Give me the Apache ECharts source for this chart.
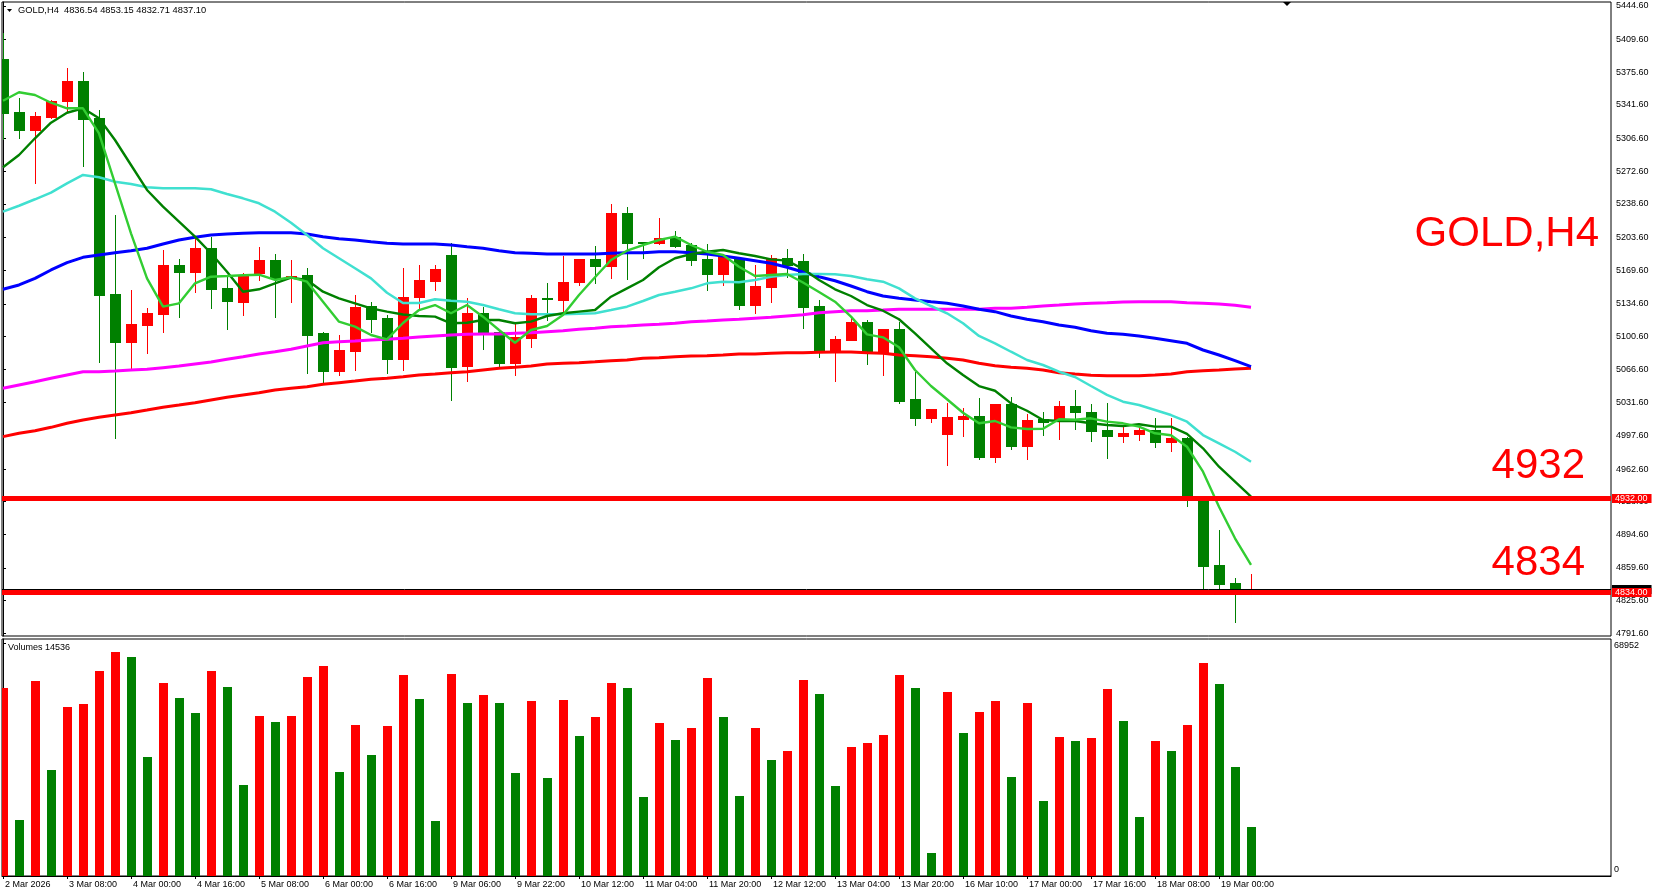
<!DOCTYPE html>
<html><head><meta charset="utf-8">
<script src="https://cdn.jsdelivr.net/npm/echarts@6/dist/echarts.min.js"></script>
<style>html,body{margin:0;padding:0;background:#fff}#c{width:1655px;height:893px}</style>
</head><body><div id="c"></div>
<script>
// ---------------- DATA ----------------
const symbolName = 'GOLD,H4';
const timeLabels = ['2 Mar 2026','3 Mar 08:00','4 Mar 00:00','4 Mar 16:00','5 Mar 08:00','6 Mar 00:00','6 Mar 16:00','9 Mar 06:00','9 Mar 22:00','10 Mar 12:00','11 Mar 04:00','11 Mar 20:00','12 Mar 12:00','13 Mar 04:00','13 Mar 20:00','16 Mar 10:00','17 Mar 00:00','17 Mar 16:00','18 Mar 08:00','19 Mar 00:00'];
const barsPerLabel = 4;
const priceTicks = [5444.6,5409.6,5375.6,5341.6,5306.6,5272.6,5238.6,5203.6,5169.6,5134.6,5100.6,5066.6,5031.6,4997.6,4962.6,4928.6,4894.6,4859.6,4825.6,4791.6];
const volumeTicks = [0, 68952];

const opens = [5389.4,5334.6,5315.5,5329.4,5345.2,5366.5,5328.0,5144.8,5095.1,5112.5,
 5124.0,5175.0,5168.0,5192.7,5151.0,5136.8,5166.3,5180.2,5161.5,5164.6,
 5103.9,5064.6,5085.8,5132.3,5120.1,5076.8,5141.4,5158.6,5185.4,5070.2,
 5124.7,5104.9,5073.3,5099.3,5140.9,5138.6,5157.6,5181.2,5174.3,5229.4,
 5198.9,5197.6,5204.4,5195.8,5181.2,5165.6,5181.2,5133.3,5152.4,5181.9,
 5179.1,5132.3,5084.7,5096.9,5116.0,5084.7,5108.4,5035.5,5016.0,4999.1,
 5015.0,5017.8,4975.4,5030.3,4986.9,5014.3,5013.6,5028.2,5021.7,5003.2,
 4997.3,4999.4,5002.9,4991.0,4995.2,4933.0,4862.7,4843.9,4836.54];
const highs = [5416.2,5348.5,5334.6,5346.7,5380.4,5375.9,5336.3,5227.0,5149.0,5130.5,
 5190.6,5181.2,5201.7,5204.4,5162.8,5166.3,5194.0,5186.4,5180.2,5172.2,
 5105.6,5102.1,5143.7,5136.5,5122.9,5171.5,5175.0,5175.0,5197.6,5140.3,
 5131.6,5106.3,5116.0,5143.7,5156.6,5184.4,5181.6,5194.8,5238.5,5235.7,
 5199.3,5223.9,5210.4,5198.2,5196.8,5184.8,5181.6,5175.0,5185.1,5191.6,
 5186.4,5138.6,5101.1,5121.2,5117.7,5108.8,5116.0,5064.0,5025.5,5031.6,
 5025.8,5036.2,5030.7,5037.2,5019.6,5022.0,5033.4,5044.9,5030.3,5031.0,
 5006.7,5006.7,5016.0,5016.0,4995.6,4934.0,4899.1,4849.4,4853.15];
const lows = [5306.1,5307.5,5260.7,5327.7,5334.6,5278.0,5074.0,4995.2,5066.4,5083.1,
 5105.6,5121.2,5147.2,5130.5,5108.7,5122.9,5159.4,5120.5,5136.8,5062.2,
 5051.8,5060.5,5065.7,5105.3,5062.9,5065.7,5128.1,5148.9,5034.4,5054.5,
 5087.2,5067.4,5060.5,5089.3,5117.7,5124.7,5154.2,5155.9,5161.8,5160.7,
 5182.6,5197.2,5194.0,5175.0,5148.9,5154.2,5129.2,5125.3,5136.8,5162.8,
 5109.7,5078.9,5054.5,5096.5,5071.6,5060.5,5031.6,5008.4,5011.8,4966.8,
 4997.0,4972.7,4970.2,4983.8,4973.3,4998.0,4994.2,5004.6,4992.1,4973.7,
 4991.0,4992.8,4985.8,4981.7,4924.4,4837.4,4837.4,4803.6,4832.71];
const closes = [5332.9,5315.5,5330.1,5345.7,5366.5,5327.0,5143.7,5095.1,5113.6,5124.7,
 5175.0,5168.0,5192.7,5150.3,5137.8,5164.6,5180.2,5161.1,5163.5,5102.1,
 5064.6,5086.5,5131.6,5119.1,5076.8,5141.7,5159.4,5170.8,5069.1,5124.7,
 5104.5,5073.3,5100.3,5140.3,5139.3,5157.6,5181.2,5174.3,5229.4,5198.2,
 5197.6,5202.8,5194.8,5180.2,5165.6,5184.4,5133.3,5153.1,5181.9,5175.0,
 5131.6,5084.7,5097.9,5116.0,5084.7,5108.4,5033.4,5016.0,5025.1,5017.1,
 5017.8,4975.4,5030.3,4986.9,5013.6,5011.5,5028.2,5021.7,5002.5,4997.3,
 5000.1,5002.9,4991.0,4994.6,4933.0,4861.9,4842.6,4837.4,4837.10];
const volumes = [55480,16615,57660,31450,49845,50735,60625,66164,64680,35307,
 56966,52516,48065,60625,55780,27000,47472,45692,47472,58747,
 62010,30857,44802,35901,44505,59340,52219,16319,59637,51032,
 53406,51032,30560,51626,29077,51923,41538,47175,56966,55483,
 23439,45395,40351,43912,58450,47175,23736,43912,34417,37088,
 57857,53703,26703,38274,39461,41835,59340,55483,6824,54296,
 42428,48362,51626,29373,51032,22253,41241,40055,40945,55186,
 45989,17505,40055,37088,44802,62900,56670,32340,14536];

const maFast = [5346.0,5354.8,5352.0,5343.9,5338.1,5338.1,5312.1,5260.0,5208.0,5161.1,
 5131.6,5135.1,5155.9,5162.8,5163.5,5164.3,5164.9,5159.4,5162.2,5157.6,
 5136.8,5116.0,5110.8,5102.1,5097.6,5114.6,5128.1,5133.3,5124.7,5133.3,
 5121.2,5107.3,5094.1,5107.3,5111.5,5122.9,5143.8,5162.2,5180.2,5189.9,
 5195.8,5201.0,5204.5,5195.8,5188.8,5185.4,5173.2,5163.5,5164.6,5165.6,
 5156.8,5146.9,5136.8,5121.2,5102.8,5099.7,5089.3,5065.7,5049.0,5035.2,
 5021.2,5010.2,5012.6,5006.0,5004.3,5004.6,5014.4,5013.9,5015.4,5011.9,
 5010.2,5006.7,4999.8,4997.7,4985.8,4959.8,4923.4,4890.5,4862.7];
const maMid = [5276.7,5289.5,5306.9,5323.1,5333.5,5338.1,5327.7,5305.1,5279.1,5253.1,
 5235.7,5220.1,5204.5,5187.2,5168.0,5147.2,5149.7,5155.9,5161.8,5159.4,
 5147.2,5140.3,5135.1,5129.9,5126.4,5123.5,5121.9,5121.2,5114.3,5114.9,
 5117.7,5117.7,5114.3,5116.0,5121.9,5124.7,5126.4,5128.1,5142.0,5150.7,
 5159.4,5172.6,5182.0,5186.4,5188.8,5190.6,5187.2,5184.4,5180.9,5179.5,
 5170.8,5159.4,5149.7,5142.7,5133.3,5127.4,5118.5,5103.9,5088.3,5072.7,
 5060.5,5049.0,5044.1,5031.0,5023.3,5013.6,5012.6,5012.6,5010.2,5008.4,
 5007.4,5009.2,5006.7,5006.7,4999.1,4984.2,4965.0,4949.4,4933.8];
const maTurq = [5230.5,5236.7,5243.4,5250.3,5260.0,5268.7,5266.3,5261.7,5259.3,5255.9,
 5254.8,5254.8,5254.8,5253.8,5248.9,5244.4,5239.2,5230.5,5219.0,5206.2,
 5192.4,5182.0,5171.6,5161.1,5146.1,5135.4,5135.4,5139.3,5137.8,5136.8,
 5133.3,5128.9,5124.7,5123.7,5123.7,5123.7,5124.3,5124.7,5128.1,5131.6,
 5137.5,5143.8,5147.2,5150.7,5155.9,5157.6,5157.0,5159.4,5162.8,5164.6,
 5165.6,5165.6,5165.3,5163.5,5160.1,5157.6,5150.7,5140.3,5132.3,5124.7,
 5114.3,5101.1,5093.5,5084.7,5076.1,5070.9,5063.9,5058.4,5049.0,5039.7,
 5032.7,5029.2,5024.0,5018.8,5011.9,4998.0,4989.4,4980.6,4970.2];
const maBlue = [5149.7,5154.2,5161.1,5169.8,5177.4,5183.0,5185.4,5187.8,5189.9,5192.4,
 5196.8,5201.0,5203.8,5206.2,5207.3,5208.0,5208.6,5208.6,5208.6,5207.3,
 5204.5,5202.4,5201.0,5199.2,5197.6,5196.8,5196.8,5196.8,5195.8,5194.0,
 5192.4,5189.9,5187.8,5187.2,5186.4,5186.4,5186.4,5186.4,5187.2,5187.8,
 5187.8,5188.8,5188.8,5187.8,5186.4,5184.4,5182.0,5179.5,5176.8,5172.6,
 5167.7,5162.8,5158.6,5153.1,5147.2,5142.7,5140.3,5138.6,5136.8,5135.1,
 5132.3,5128.9,5126.4,5121.9,5118.5,5116.0,5112.5,5110.1,5106.6,5103.9,
 5102.8,5101.1,5098.7,5096.2,5093.5,5086.5,5081.3,5075.4,5069.1];
const maMagenta = [5046.6,5050.1,5053.5,5057.0,5060.5,5063.9,5063.9,5064.6,5065.7,5066.4,
 5068.1,5069.8,5071.9,5074.0,5076.8,5079.5,5082.3,5084.7,5087.2,5090.7,
 5094.1,5095.1,5095.9,5096.9,5097.6,5098.7,5100.0,5101.1,5102.1,5102.8,
 5103.2,5103.2,5103.9,5104.5,5105.6,5106.6,5108.1,5109.1,5110.8,5111.5,
 5112.5,5113.3,5114.3,5116.0,5116.7,5117.7,5118.5,5119.5,5120.5,5121.9,
 5123.3,5125.3,5126.4,5127.4,5127.4,5128.1,5128.9,5128.9,5128.9,5128.9,
 5128.9,5128.9,5129.9,5129.9,5131.0,5132.3,5133.3,5134.4,5135.1,5135.7,
 5136.5,5136.8,5136.8,5136.8,5135.7,5135.1,5134.4,5133.0,5131.0];
const maRed = [4996.3,4999.8,5002.5,5006.0,5010.2,5013.6,5016.4,5018.8,5021.2,5024.0,
 5026.9,5029.2,5031.6,5034.5,5037.3,5039.7,5042.1,5044.9,5046.6,5048.3,
 5050.8,5052.5,5054.2,5056.0,5057.0,5058.7,5060.5,5061.5,5062.9,5063.9,
 5065.7,5067.5,5068.5,5069.8,5071.9,5072.7,5073.3,5074.3,5075.4,5076.1,
 5077.9,5078.5,5079.5,5080.3,5080.6,5081.3,5082.3,5082.3,5083.1,5083.7,
 5083.7,5084.1,5084.4,5084.4,5083.7,5083.1,5081.3,5080.6,5079.5,5077.9,
 5076.1,5072.7,5070.2,5068.5,5067.5,5065.7,5062.9,5061.5,5060.2,5059.8,
 5059.8,5059.8,5060.5,5061.5,5063.9,5065.0,5065.7,5066.7,5067.5];

const levels = [4932.00, 4834.00];
const bidPrice = 4837.10;

// ---------------- STYLE ----------------
const UP = '#FF0000', DOWN = '#008000';
const FONT = '"Liberation Sans", Arial, sans-serif';
const N = opens.length;
const labelIdx = timeLabels.map((t, k) => k * barsPerLabel);

const chart = echarts.init(document.getElementById('c'), null, {renderer: 'canvas'});

function renderCandle(params, api) {
  const i = api.value(0), o = api.value(1), h = api.value(2), l = api.value(3), c = api.value(4);
  const x = Math.round(api.coord([i, o])[0]);
  const yo = Math.round(api.coord([i, o])[1]);
  const yc = Math.round(api.coord([i, c])[1]);
  const yh = Math.round(api.coord([i, h])[1]);
  const yl = Math.round(api.coord([i, l])[1]);
  const col = c > o ? UP : DOWN;
  const top = Math.min(yo, yc), bot = Math.max(yo, yc);
  return {type: 'group', children: [
    {type: 'rect', shape: {x: x, y: yh, width: 1, height: yl - yh + 1}, style: {fill: col}},
    {type: 'rect', shape: {x: x - 5, y: top, width: 11, height: Math.max(1, bot - top + 1)}, style: {fill: col}}
  ]};
}
function renderVolume(params, api) {
  const i = api.value(0), v = api.value(1), up = api.value(2);
  const p = api.coord([i, v]), p0 = api.coord([i, 0]);
  const x = Math.round(p[0]);
  const y = Math.round(p[1]), y0 = Math.round(p0[1]);
  return {type: 'rect', shape: {x: x - 4, y: y, width: 9, height: y0 - y}, style: {fill: up ? UP : DOWN}};
}

const candleData = opens.map((o, i) => [i, o, highs[i], lows[i], closes[i]]);
const volData = volumes.map((v, i) => [i, v, (i === 0 || v > volumes[i - 1]) ? 1 : 0]);

function maSeries(arr, color, width) {
  return {type: 'line', xAxisIndex: 0, yAxisIndex: 0, data: arr.map((v, i) => [i, v]),
    symbol: 'none', showSymbol: false, silent: true, z: 3,
    lineStyle: {color: color, width: width}};
}

const X_MIN = -0.0625, X_MAX = 100.5;

const option = {
  animation: false,
  backgroundColor: '#fff',
  grid: [
    {left: 2, top: 2, width: 1609, height: 634, show: true, borderColor: '#000', borderWidth: 1},
    {left: 2, top: 639, width: 1609, height: 237, show: true, borderColor: '#000', borderWidth: 1}
  ],
  xAxis: [
    {gridIndex: 0, type: 'value', min: X_MIN, max: X_MAX, show: false},
    {gridIndex: 1, type: 'value', min: X_MIN, max: X_MAX,
      axisLine: {show: true, lineStyle: {color: '#000', width: 1}},
      axisTick: {show: true, customValues: labelIdx, length: 3, lineStyle: {color: '#000'}},
      axisLabel: {customValues: labelIdx, formatter: v => timeLabels[Math.round(v / barsPerLabel)],
        align: 'left', fontSize: 9, color: '#000', fontFamily: FONT, margin: 4, padding: [0, 0, 0, 2]},
      splitLine: {show: false}}
  ],
  yAxis: [
    {gridIndex: 0, type: 'value', position: 'right', min: 4788.78, max: 5448.77,
      axisLine: {show: true, lineStyle: {color: '#000'}},
      axisTick: {show: true, customValues: priceTicks, length: 3, lineStyle: {color: '#000'}},
      axisLabel: {customValues: priceTicks, formatter: v => v.toFixed(2), fontSize: 9, color: '#000', fontFamily: FONT, margin: 5},
      splitLine: {show: false}},
    {gridIndex: 1, type: 'value', position: 'right', min: 0, max: 70100,
      axisLine: {show: true, lineStyle: {color: '#000'}},
      axisTick: {show: true, customValues: volumeTicks, length: 3, lineStyle: {color: '#000'}},
      axisLabel: {customValues: volumeTicks, fontSize: 9, color: '#000', fontFamily: FONT, margin: 3,
        formatter: v => v === 0 ? '{z|0}' : '{m|' + v + '}',
        rich: {z: {fontSize: 9, fontFamily: FONT, color: '#000', padding: [0, 0, 12, 0]},
               m: {fontSize: 9, fontFamily: FONT, color: '#000', padding: [6, 0, 0, 0]}}},
      splitLine: {show: false}}
  ],
  series: [
    {type: 'custom', xAxisIndex: 0, yAxisIndex: 0, renderItem: renderCandle, data: candleData, clip: true, z: 2, silent: true},
    maSeries(maRed, '#FF0000', 3),
    maSeries(maMagenta, '#FF00FF', 3),
    maSeries(maBlue, '#0000FF', 3),
    maSeries(maTurq, '#40E0D0', 2.5),
    maSeries(maMid, '#008000', 2.4),
    maSeries(maFast, '#32CD32', 2.4),
    {type: 'line', xAxisIndex: 0, yAxisIndex: 0, data: [], z: 5, silent: true,
      markLine: {silent: true, symbol: ['none', 'none'], animation: false,
        data: [
          {yAxis: bidPrice, lineStyle: {color: '#000', width: 1, type: 'solid'},
            label: {show: true, position: 'end', distance: 1, formatter: bidPrice.toFixed(2), color: '#000', backgroundColor: '#000',
              fontSize: 9, fontFamily: FONT, padding: [0, 4, 0, 3], lineHeight: 9}},
          {yAxis: levels[0], lineStyle: {color: '#FF0000', width: 5, type: 'solid'},
            label: {show: true, position: 'end', distance: 1, formatter: levels[0].toFixed(2), color: '#fff', backgroundColor: '#FF0000',
              fontSize: 9, fontFamily: FONT, padding: [0, 4, 0, 3], lineHeight: 9}},
          {yAxis: levels[1], lineStyle: {color: '#FF0000', width: 5, type: 'solid'},
            label: {show: true, position: 'end', distance: 1, formatter: levels[1].toFixed(2), color: '#fff', backgroundColor: '#FF0000',
              fontSize: 9, fontFamily: FONT, padding: [0, 4, 0, 3], lineHeight: 9}}
        ]}},
    {type: 'custom', xAxisIndex: 1, yAxisIndex: 1, renderItem: renderVolume, data: volData, clip: true, z: 2, silent: true}
  ]
};
chart.setOption(option);

const yA = chart.convertToPixel({yAxisIndex: 0}, levels[0]);
const yB = chart.convertToPixel({yAxisIndex: 0}, levels[1]);
const last = N - 1;
const headerText = symbolName + '  ' + [opens[last], highs[last], lows[last], closes[last]].map(v => v.toFixed(2)).join(' ');
chart.setOption({
  graphic: [
    {type: 'polygon', shape: {points: [[7, 9], [12, 9], [9.5, 12]]}, style: {fill: '#000'}, z: 10},
    {type: 'text', x: 18, y: 10, style: {text: headerText, fill: '#000', font: '9.3px ' + FONT, verticalAlign: 'middle'}, z: 10},
    {type: 'text', x: 8, y: 648, style: {text: 'Volumes ' + volumes[last], fill: '#000', font: '9px ' + FONT, verticalAlign: 'middle'}, z: 10},
    {type: 'text', x: 1599, y: 234, style: {text: symbolName, fill: '#FF0000', font: '42px ' + FONT, align: 'right', verticalAlign: 'middle'}, z: 10},
    {type: 'text', x: 1585, y: yA - 32, style: {text: String(Math.round(levels[0])), fill: '#FF0000', font: '42px ' + FONT, align: 'right', verticalAlign: 'middle'}, z: 10},
    {type: 'text', x: 1585, y: yB - 29, style: {text: String(Math.round(levels[1])), fill: '#FF0000', font: '42px ' + FONT, align: 'right', verticalAlign: 'middle'}, z: 10},
    {type: 'polygon', shape: {points: [[1283, 2], [1291, 2], [1287, 6]]}, style: {fill: '#000'}, z: 10}
  ]
});
</script>
</body></html>
